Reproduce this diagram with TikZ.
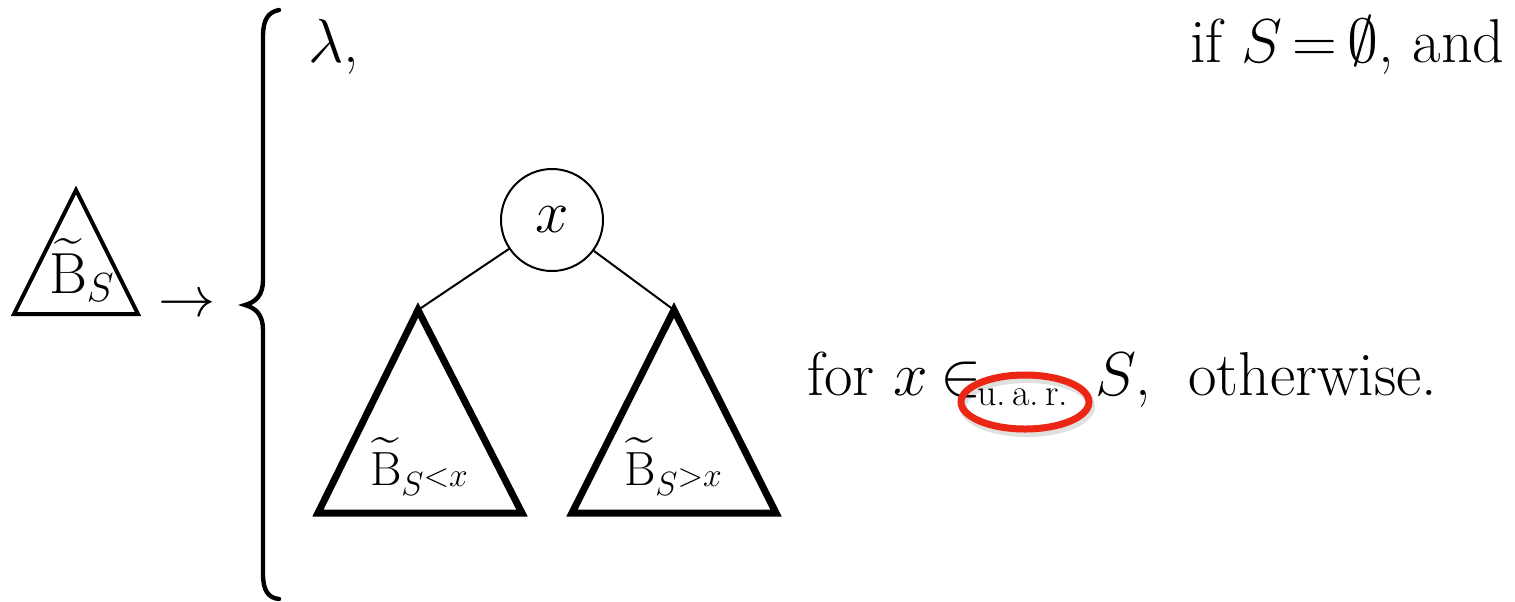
\RequirePackage{fix-cm}
\documentclass[tikz,border=0pt]{standalone}
\usepackage{amsmath}
\definecolor{uarred}{RGB}{236,38,20}
\begin{document}
\begin{tikzpicture}[x=0.5pt,y=-0.5pt,
  txt/.style={inner sep=0pt, outer sep=0pt, anchor=base west, font=\fontsize{31}{37}\selectfont},
  small/.style={inner sep=0pt, outer sep=0pt, anchor=base west, font=\fontsize{19}{23}\selectfont},
  lbl/.style={inner sep=0pt, outer sep=0pt, anchor=base west, font=\fontsize{24}{29}\selectfont},
  bigtri/.style={draw, line width=3.5pt, line join=miter},
  smalltri/.style={draw, line width=2pt, line join=miter},
  edge/.style={draw, line width=1pt},
  brace/.style={draw, line width=2.2pt, line cap=round},
  rootnode/.style={circle, draw, line width=1pt, minimum size=51pt, inner sep=0pt, font=\fontsize{30}{36}\selectfont}]
\useasboundingbox (0,0) rectangle (1515,601);

% left-hand side: small tree
\coordinate (sa) at (76,190);
\coordinate (sl) at (14,314);
\coordinate (sr) at (138,314);
\draw[smalltri] (sa) -- (sr) -- (sl) -- cycle;
\node[txt, font=\fontsize{29}{35}\selectfont] (bs) at (49,293) {$\widetilde{\mathrm{B}}_{S}$};

% arrow
\node[inner sep=0pt, font=\fontsize{28.5}{34}\selectfont] (arr) at (187,306) {$\rightarrow$};

% brace
\draw[brace] (279,10) .. controls (268,12) and (263,20) .. (263,36)
  -- (263,280) .. controls (263,295) and (256,302) .. (245,305)
  .. controls (256,308) and (263,315) .. (263,330)
  -- (263,574) .. controls (263,590) and (268,598) .. (279,599);

% first case
\node[txt] (lam) at (308,62) {$\lambda$,};
\node[txt] (ifS) at (1190,62) {\thickmuskip=3mu if $S=\emptyset$, and};

% tree
\node[rootnode] (root) at (552,220) {$x$};
\coordinate (la) at (418,310);
\coordinate (ll) at (318,513);
\coordinate (lr) at (522,513);
\coordinate (ra) at (674,310);
\coordinate (rl) at (572,513);
\coordinate (rr) at (776,513);
\draw[edge] (root) -- (la);
\draw[edge] (root) -- (ra);
\draw[bigtri] (la) -- (lr) -- (ll) -- cycle;
\draw[bigtri] (ra) -- (rr) -- (rl) -- cycle;
\node[lbl] (bl) at (370,485) {$\widetilde{\mathrm{B}}_{S^{\scriptstyle <x}}$};
\node[lbl] (br) at (624,485) {$\widetilde{\mathrm{B}}_{S^{\scriptstyle >x}}$};

% second case
\node[txt] (for) at (807,395) {for};
\node[txt] (xx) at (893,395) {$x$};
\node[txt] (in) at (940,395) {$\in$};
\node[small] (uar) at (977,405) {u.\,a.\,r.};
\node[txt] (SS) at (1095,395) {$S$,};
\node[txt] (oth) at (1188,395) {otherwise.};

% highlight
\draw[black, opacity=0.12, line width=4pt] (1027,406) ellipse [x radius=64, y radius=27];
\draw[uarred, line width=3.5pt] (1025,402) ellipse [x radius=64, y radius=27];
\end{tikzpicture}
\end{document}
